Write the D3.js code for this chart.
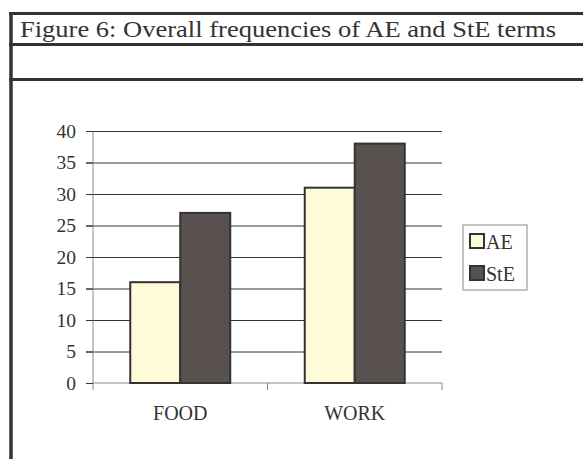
<!DOCTYPE html>
<html>
<head>
<meta charset="utf-8">
<script src="https://cdn.jsdelivr.net/npm/d3@7"></script>
<style>
  body { margin: 0; background: #fff; }
  text { font-family: "Liberation Serif", "Times New Roman", serif; fill: #333; }
</style>
</head>
<body>
<script>
// chart data
const categories = ['FOOD', 'WORK'];
const seriesNames = ['AE', 'StE'];
const aeValues = [16, 31];
const steValues = [27, 38];
const yTicks = [0, 5, 10, 15, 20, 25, 30, 35, 40];
const titleText = 'Figure 6: Overall frequencies of AE and StE terms';

const colors = { AE: '#fffad8', StE: '#595050' };

const W = 583, H = 459;
const plot = { left: 93, right: 442, top: 131, bottom: 383 };

const svg = d3.select('body')
  .append('svg')
  .attr('width', W)
  .attr('height', H);

svg.append('rect').attr('width', W).attr('height', H).attr('fill', '#fff');

// table frame around the figure
const frame = svg.append('g').attr('stroke', '#333');
frame.append('line').attr('x1', 11).attr('x2', 11).attr('y1', 12).attr('y2', H).attr('stroke-width', 3.5);
[13.5, 44.5, 79.5].forEach((y) => {
  frame.append('line').attr('x1', 9).attr('x2', W).attr('y1', y).attr('y2', y).attr('stroke-width', 3);
});

// title is a bit wider than the font would give, so stretch it
svg.append('text')
  .attr('x', 20)
  .attr('y', 37)
  .attr('textLength', 536)
  .attr('lengthAdjust', 'spacingAndGlyphs')
  .style('font-size', '23.5px')
  .text(titleText);

// scales
const y = d3.scaleLinear().domain([0, 40]).range([plot.bottom, plot.top]);

const x0 = d3.scaleBand()
  .domain(categories)
  .range([plot.left, plot.right])
  .paddingInner(0.427)
  .paddingOuter(0.2135);

const x1 = d3.scaleBand()
  .domain(seriesNames)
  .range([0, x0.bandwidth()]);

// gridlines
const grid = svg.append('g')
  .attr('transform', `translate(${plot.left - 7},0)`)
  .call(d3.axisLeft(y).tickValues(yTicks.slice(1)).tickSize(-(plot.right - plot.left + 7)).tickFormat(''));
grid.select('.domain').remove();
grid.selectAll('line').attr('stroke', '#333');

// y axis
const yAxis = svg.append('g')
  .attr('transform', `translate(${plot.left},0)`)
  .call(d3.axisLeft(y).tickValues(yTicks).tickSize(7).tickPadding(10));
yAxis.select('.domain')
  .attr('d', `M0,${plot.top}V${plot.bottom + 7}`)
  .attr('stroke', '#8a8a8a');
yAxis.selectAll('.tick line').attr('stroke', '#333');
yAxis.selectAll('.tick text')
  .style('font-size', '19.5px')
  .style('font-family', '"Liberation Serif", serif')
  .attr('fill', '#333');

// x axis
const xAxis = svg.append('g')
  .attr('transform', `translate(0,${plot.bottom})`)
  .call(d3.axisBottom(x0).tickSize(0).tickPadding(23));
xAxis.select('.domain').attr('d', `M${plot.left},0H${plot.right}`).attr('stroke', '#8a8a8a');
xAxis.selectAll('.tick text')
  .style('font-size', '20px')
  .style('font-family', '"Liberation Serif", serif')
  .attr('fill', '#333');

// category boundary ticks
const bounds = d3.range(categories.length + 1).map((i) => x0.range()[0] + i * x0.step());
xAxis.selectAll('.bound')
  .data(bounds.slice(1))
  .enter()
  .append('line')
  .attr('x1', (d) => d).attr('x2', (d) => d)
  .attr('y1', 0).attr('y2', 7)
  .attr('stroke', '#8a8a8a');

// bars
const rows = categories.map((c, i) => ({ cat: c, AE: aeValues[i], StE: steValues[i] }));

const groups = svg.selectAll('.group')
  .data(rows)
  .enter()
  .append('g')
  .attr('class', 'group')
  .attr('transform', (d) => `translate(${x0(d.cat)},0)`);

groups.selectAll('rect')
  .data((d) => seriesNames.map((s) => ({ key: s, value: d[s] })))
  .enter()
  .append('rect')
  .attr('x', (d) => x1(d.key))
  .attr('y', (d) => y(d.value))
  .attr('width', x1.bandwidth())
  .attr('height', (d) => y(0) - y(d.value))
  .attr('fill', (d) => colors[d.key])
  .attr('stroke', '#333')
  .attr('stroke-width', 2);

// legend
const legend = svg.append('g').attr('transform', 'translate(463,225)');
legend.append('rect')
  .attr('width', 64)
  .attr('height', 65)
  .attr('fill', '#fff')
  .attr('stroke', '#8a8a8a');

const items = legend.selectAll('.item')
  .data(seriesNames)
  .enter()
  .append('g')
  .attr('class', 'item')
  .attr('transform', (_, i) => `translate(7,${9 + i * 32})`);

items.append('rect')
  .attr('width', 14)
  .attr('height', 14)
  .attr('fill', (d) => colors[d])
  .attr('stroke', '#333')
  .attr('stroke-width', 2);

items.append('text')
  .attr('x', 16)
  .attr('y', 15)
  .style('font-size', '20px')
  .text((d) => d);
</script>
</body>
</html>
